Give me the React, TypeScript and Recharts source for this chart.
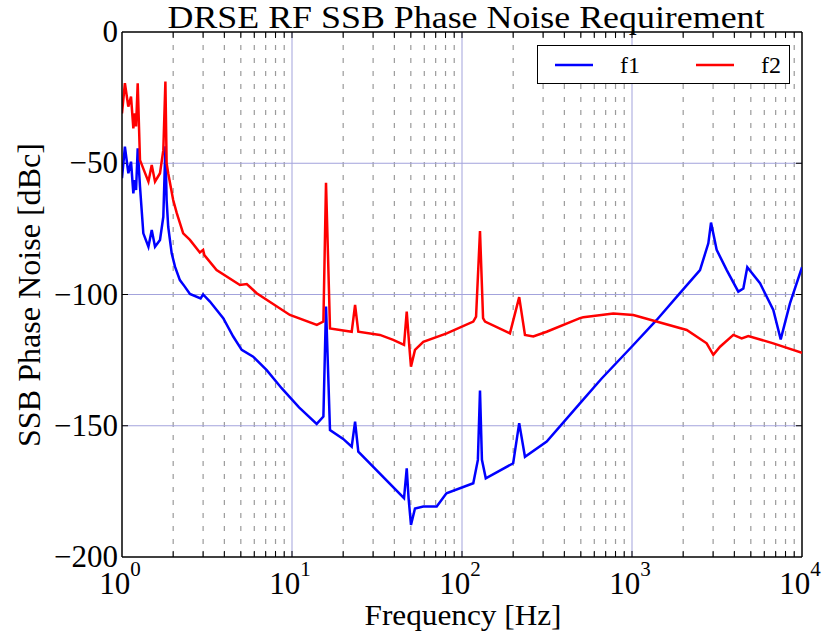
import React from 'react';
import { LineChart, Line, XAxis, YAxis, ReferenceLine } from 'recharts';

// f1 (blue) readings: frequency [Hz] and level [dBc]
const f1Freq = [
  1.0, 1.04, 1.09, 1.13, 1.166, 1.19, 1.21, 1.237, 1.276, 1.335, 1.43, 1.496, 1.564, 1.673, 1.75, 1.8, 1.83,
  1.87, 1.96, 2.05, 2.19, 2.34, 2.51, 2.9, 3.0, 3.29, 3.94, 4.51, 5.06, 5.91, 7.1, 8.69, 11, 13.97, 15.3, 15.85, 16.73,
  20, 22.45, 23.5, 24.55, 45.6, 47.3, 48.5, 50.1, 52.9, 59.2, 71, 81, 116.5, 124, 127.6, 131, 138,
  200, 217, 234.6, 315, 494, 663, 996, 1397, 1914, 2512, 2812, 2916, 3148, 3608, 4220, 4518, 4766,
  5663, 6779, 7495, 8496, 10000,
];
const f1Level = [
  -55.7, -43.7, -53.8, -49.4, -61.5, -56.4, -60.2, -44.3, -58.9, -76.7, -81.8, -75.4, -81.8, -79.2, -70.4, -43.5, -64,
  -74.2, -84.3, -89.4, -94.5, -97, -99.8, -101.5, -100, -102.7, -109, -116, -121.1, -123.7, -128.8, -135.7, -143, -149.3, -146.5, -104.6, -151.6,
  -155, -158, -148.4, -159.9, -177.6, -166.2, -177.6, -187.8, -181.5, -180.8, -180.8, -175.7, -171.9, -163, -136.6, -163, -170,
  -164.3, -149, -161.8, -156, -141.5, -132, -119.9, -109.7, -99.5, -90.7, -80.5, -72.6, -83, -90.7, -98.9, -97.7, -89.6,
  -95.7, -105.9, -117.1, -103.4, -89.6,
];

// f2 (red) readings
const f2Freq = [
  1.0, 1.04, 1.089, 1.13, 1.166, 1.19, 1.21, 1.237, 1.276, 1.43, 1.496, 1.564, 1.673, 1.75, 1.8, 1.83,
  1.87, 2.0, 2.1, 2.29, 2.51, 2.87, 3.0, 3.05, 3.6, 4.94, 5.42, 6.2, 9.72, 14.0, 15.3, 15.85, 16.73, 22.45, 23.5, 24.55,
  32.9, 39.4, 45.6, 47.3, 49, 50.1, 52.9, 59.2, 81.3, 116.5, 121, 127.6, 133, 136.6, 191.4, 217, 234.6, 262.6,
  314.8, 494, 517, 776, 1018, 2098, 2749, 3008, 3296, 3946, 4417, 4831, 6779, 10000,
];
const f2Level = [
  -31, -19.5, -28.4, -24.6, -36.7, -31, -36, -19.5, -48.8, -57, -50.7, -57, -53.8, -45, -18.9, -50,
  -53.8, -64, -69, -76.7, -79.2, -84, -83, -85, -90.7, -96.4, -96, -99.5, -107.8, -111.6, -110.3, -57.4, -112.9, -114.2, -104, -114.2,
  -115.4, -117.3, -119.2, -106.5, -119.9, -127.5, -121.1, -118, -114.8, -110.3, -108.4, -75.8, -109, -110.3, -114.8, -101, -115.4, -116,
  -114.2, -109, -108.7, -107.2, -107.8, -113.5, -118.6, -123, -119.9, -115.4, -116.7, -115.8, -118.6, -122.2,
];

const xTicks = [1, 10, 100, 1000, 10000];
const yTicks = [-200, -150, -100, -50, 0];
const majorX = [10, 100, 1000];
const majorY = [-150, -100, -50];
const minorX = [1, 10, 100, 1000].flatMap((d) => [2, 3, 4, 5, 6, 7, 8, 9].map((m) => m * d));

const f1Data = f1Freq.map((f, i) => ({ f, v: f1Level[i] }));
const f2Data = f2Freq.map((f, i) => ({ f, v: f2Level[i] }));

const FONT = '"Liberation Serif", "Times New Roman", serif';
const GRID = '#a3a3dc';

const XTick = ({ x, y, payload }: any) => {
  const exp = Math.round(Math.log10(payload.value));
  return (
    <text x={x - 2} y={y + 35} textAnchor="middle" fontFamily={FONT} fontSize={31} fill="#000">
      10
      <tspan dy={-18} fontSize={21}>{exp}</tspan>
    </text>
  );
};

const YTick = ({ x, y, payload }: any) => (
  <text x={x} y={y + 10} textAnchor="end" fontFamily={FONT} fontSize={31} fill="#000">
    {payload.value === 0 ? '0' : '\u2212' + Math.abs(payload.value)}
  </text>
);

const LegendBox = () => (
  <div
    style={{
      position: 'absolute',
      left: 537,
      top: 45,
      width: 253,
      height: 39,
      boxSizing: 'border-box',
      border: '1.5px solid #000',
      background: '#fff',
    }}
  >
    <svg width={250} height={36} style={{ position: 'absolute', left: 0, top: 0 }}>
      <line x1={17} x2={55} y1={19} y2={19} stroke="#0000ff" strokeWidth={2.5} />
      <text x={82} y={27} fontFamily={FONT} fontSize={24}>f1</text>
      <line x1={158} x2={196} y1={19} y2={19} stroke="#ff0000" strokeWidth={2.5} />
      <text x={223} y={27} fontFamily={FONT} fontSize={24}>f2</text>
    </svg>
  </div>
);

export default function App() {
  return (
    <div style={{ position: 'absolute', left: 0, top: 0, width: 824, height: 637, background: '#fff' }}>
      <LineChart width={824} height={637} margin={{ top: 32, right: 22, left: 22, bottom: 0 }}>
        <XAxis
          dataKey="f"
          type="number"
          scale="log"
          domain={[1, 10000]}
          allowDataOverflow
          ticks={xTicks}
          tick={<XTick />}
          tickLine={false}
          tickSize={0}
          height={80}
          axisLine={{ stroke: '#000', strokeWidth: 1.5 }}
          interval={0}
        />
        <YAxis
          type="number"
          domain={[-200, 0]}
          ticks={yTicks}
          tick={<YTick />}
          tickLine={false}
          tickSize={0}
          tickMargin={4}
          width={100}
          axisLine={{ stroke: '#000', strokeWidth: 1.5 }}
          interval={0}
          allowDataOverflow
        />
        {minorX.map((v) => (
          <ReferenceLine key={'mx' + v} x={v} stroke="#9a9a9a" strokeWidth={1.2} strokeDasharray="5 8" />
        ))}
        {majorX.map((v) => (
          <ReferenceLine key={'Mx' + v} x={v} stroke={GRID} strokeWidth={1} />
        ))}
        {majorY.map((v) => (
          <ReferenceLine key={'My' + v} y={v} stroke={GRID} strokeWidth={1} />
        ))}
        {/* inward tick marks on all four sides */}
        {[...minorX, ...majorX].map((v) => (
          <ReferenceLine key={'tb' + v} segment={[{ x: v, y: -200 }, { x: v, y: -197.7 }]} stroke="#000" strokeWidth={1} />
        ))}
        {[...minorX, ...majorX].map((v) => (
          <ReferenceLine key={'tt' + v} segment={[{ x: v, y: 0 }, { x: v, y: -2.3 }]} stroke="#000" strokeWidth={1} />
        ))}
        {majorY.map((v) => (
          <ReferenceLine key={'tl' + v} segment={[{ x: 1, y: v }, { x: 1.085, y: v }]} stroke="#000" strokeWidth={1} />
        ))}
        {majorY.map((v) => (
          <ReferenceLine key={'tr' + v} segment={[{ x: 9216, y: v }, { x: 10000, y: v }]} stroke="#000" strokeWidth={1} />
        ))}
        <ReferenceLine y={0} stroke="#000" strokeWidth={1.5} />
        <ReferenceLine x={10000} stroke="#000" strokeWidth={1.5} />
        <Line
          data={f1Data}
          dataKey="v"
          name="f1"
          type="linear"
          stroke="#0000ff"
          strokeWidth={2.5}
          dot={false}
          isAnimationActive={false}
        />
        <Line
          data={f2Data}
          dataKey="v"
          name="f2"
          type="linear"
          stroke="#ff0000"
          strokeWidth={2.5}
          dot={false}
          isAnimationActive={false}
        />
      </LineChart>
      <LegendBox />
      <svg width={824} height={637} style={{ position: 'absolute', left: 0, top: 0, pointerEvents: 'none' }}>
        <text x={466} y={28} textAnchor="middle" fontFamily={FONT} fontSize={31} textLength={597} lengthAdjust="spacingAndGlyphs">
          DRSE RF SSB Phase Noise Requirement
        </text>
        <text x={463} y={625} textAnchor="middle" fontFamily={FONT} fontSize={29} textLength={197} lengthAdjust="spacingAndGlyphs">
          Frequency [Hz]
        </text>
        <text
          x={0}
          y={0}
          transform="translate(40 295) rotate(-90)"
          textAnchor="middle"
          fontFamily={FONT}
          fontSize={32}
          textLength={304}
          lengthAdjust="spacingAndGlyphs"
        >
          SSB Phase Noise [dBc]
        </text>
      </svg>
    </div>
  );
}
